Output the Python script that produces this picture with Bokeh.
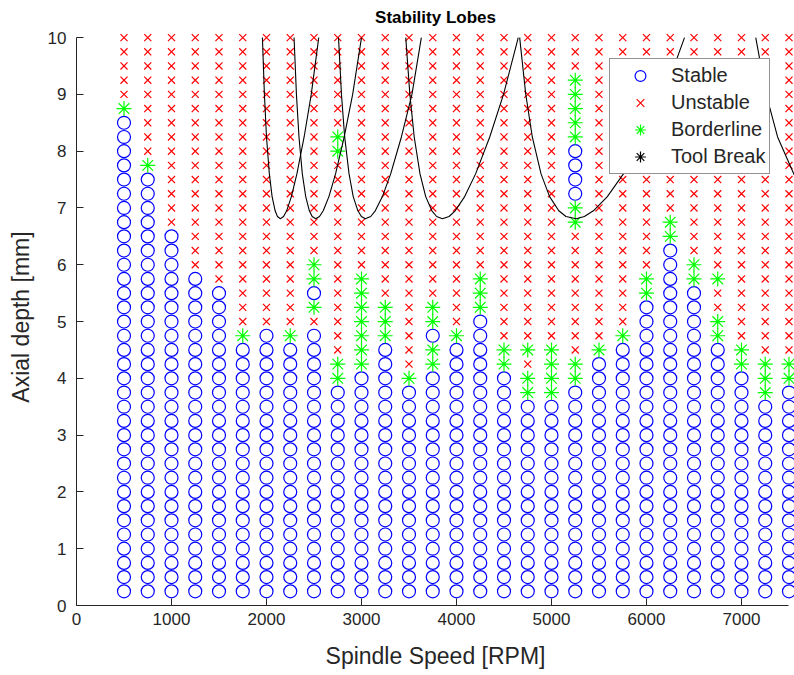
from bokeh.plotting import figure
from bokeh.models import Range1d, FixedTicker, Legend, LegendItem
from bokeh.embed import file_html
from bokeh.resources import INLINE

FONT = "Liberation Sans"
TXT = "#262626"

# ---------------- data ----------------
speeds = [500, 750, 1000, 1250, 1500, 1750, 2000, 2250, 2500, 2750,
          3000, 3250, 3500, 3750, 4000, 4250, 4500, 4750, 5000, 5250,
          5500, 5750, 6000, 6250, 6500, 6750, 7000, 7250, 7500]
depth_step = 0.25  # test depths: 0.25, 0.50, ... 10.0 mm
# result of each test from the lowest depth upward, as runs:
# o = stable, x = unstable, * = borderline
columns = [
    "34o 1* 5x",                          # 500
    "30o 1* 9x",                          # 750
    "26o 14x",                            # 1000
    "23o 17x",                            # 1250
    "22o 18x",                            # 1500
    "18o 1* 21x",                         # 1750
    "19o 21x",                            # 2000
    "18o 1* 21x",                         # 2250
    "19o 1x 1* 1o 2* 16x",                # 2500
    "15o 2* 14x 2* 7x",                   # 2750
    "16o 7* 17x",                         # 3000
    "18o 3* 19x",                         # 3250
    "15o 1* 24x",                         # 3500
    "16o 2* 1o 2* 19x",                   # 3750
    "18o 1* 21x",                         # 4000
    "20o 3* 17x",                         # 4250
    "16o 2* 22x",                         # 4500
    "14o 2* 1x 1* 22x",                   # 4750
    "14o 4* 22x",                         # 5000
    "15o 2* 9x 2* 4o 5* 3x",              # 5250
    "17o 1* 22x",                         # 5500
    "18o 1* 21x",                         # 5750
    "21o 2* 17x",                         # 6000
    "25o 2* 13x",                         # 6250
    "22o 2* 16x",                         # 6500
    "18o 2* 2x 1* 17x",                   # 6750
    "16o 2* 22x",                         # 7000
    "14o 3* 23x",                         # 7250
    "15o 2* 23x",                         # 7500
]
# no tool breaks occurred (a single NaN entry keeps the legend glyph)
tool_break_rpm = [float("nan")]
tool_break_depth = [float("nan")]

# stability lobe boundaries (speed [rpm], depth [mm])
lobe_depth = [10, 9, 8.25, 7.6, 7.2, 6.95, 6.85, 6.81, 6.85, 6.95, 7.2, 7.6, 8.25, 9, 10]
lobe_rpm = [
    [1957, 1978, 2000, 2030, 2059, 2091, 2115, 2146, 2180, 2212, 2262, 2320, 2396, 2471, 2550],
    [2290, 2315, 2342, 2377, 2413, 2451, 2481, 2518, 2558, 2597, 2657, 2727, 2818, 2907, 3000],
    [2758, 2789, 2823, 2869, 2913, 2962, 2999, 3040, 3097, 3145, 3220, 3307, 3420, 3531, 3630],
    [3466, 3509, 3555, 3616, 3676, 3741, 3791, 3852, 3922, 3986, 4086, 4201, 4350, 4495, 4650],
    [4665, 4729, 4798, 4890, 4980, 5077, 5152, 5260, 5346, 5441, 5588, 5757, 5973, 6184, 6400],
]
last_lobe_rpm = [7150, 7260, 7380, 7550, 7700]
last_lobe_depth = [10, 9, 8.25, 7.6, 7.2]

x_ticks = [0, 1000, 2000, 3000, 4000, 5000, 6000, 7000]
y_ticks = [0, 1, 2, 3, 4, 5, 6, 7, 8, 9, 10]

# ---------------- build point lists ----------------
pts = {"o": ([], []), "x": ([], []), "*": ([], [])}
for s, col in zip(speeds, columns):
    k = 0
    for run in col.split():
        cnt, code = int(run[:-1]), run[-1]
        for _ in range(cnt):
            k += 1
            pts[code][0].append(s)
            pts[code][1].append(k * depth_step)

# ---------------- figure ----------------
p = figure(width=794, height=675, output_backend="svg", toolbar_location=None,
           x_range=Range1d(0, 7558), y_range=Range1d(0, 10.16),
           min_border_left=76, min_border_right=0,
           min_border_top=28, min_border_bottom=70,
           title="Stability Lobes")
p.outline_line_color = None
p.grid.visible = False
p.background_fill_color = "white"
p.border_fill_color = "white"

p.title.align = "center"
p.title.text_font = FONT
p.title.text_font_size = "17px"
p.title.text_font_style = "bold"
p.title.text_color = "black"
p.title.standoff = 4

for ax in (p.xaxis[0], p.yaxis[0]):
    ax.axis_line_color = TXT
    ax.axis_line_width = 1
    ax.major_tick_line_color = TXT
    ax.major_tick_in = 7
    ax.major_tick_out = 0
    ax.minor_tick_line_color = None
    ax.major_label_text_font = FONT
    ax.major_label_text_font_size = "17px"
    ax.major_label_text_color = TXT
    ax.axis_label_text_font = FONT
    ax.axis_label_text_font_size = "23px"
    ax.axis_label_text_font_style = "normal"
    ax.axis_label_text_color = TXT

p.xaxis.ticker = FixedTicker(ticks=x_ticks)
p.yaxis.ticker = FixedTicker(ticks=y_ticks)
p.xaxis.bounds = (0, 7500)
p.yaxis.bounds = (0, 10)
p.xaxis.axis_label = "Spindle Speed [RPM]"
p.yaxis.axis_label = "Axial depth [mm]"
p.xaxis.major_label_standoff = 7
p.yaxis.major_label_standoff = 10
p.xaxis.axis_label_standoff = 15
p.yaxis.axis_label_standoff = 11

r_st = p.scatter(pts["o"][0], pts["o"][1], marker="circle", size=13,
                 fill_color=None, line_color="#0000FF", line_width=1.2)
r_un = p.scatter(pts["x"][0], pts["x"][1], marker="x", size=10,
                 line_color="#FF0000", line_width=1.2)
r_bd = p.scatter(pts["*"][0], pts["*"][1], marker="asterisk", size=15,
                 line_color="#00FF00", line_width=1.2)
r_tb = p.scatter(tool_break_rpm, tool_break_depth, marker="asterisk", size=15,
                 line_color="black", line_width=1.2)

for xs in lobe_rpm:
    p.line(xs, lobe_depth, line_color="black", line_width=1.1)
p.line(last_lobe_rpm, last_lobe_depth, line_color="black", line_width=1.1)

legend = Legend(items=[
    LegendItem(label="Stable", renderers=[r_st]),
    LegendItem(label="Unstable", renderers=[r_un]),
    LegendItem(label="Borderline", renderers=[r_bd]),
    LegendItem(label="Tool Break", renderers=[r_tb]),
], location=(533, 431))
legend.label_text_font = FONT
legend.label_text_font_size = "20px"
legend.label_text_color = TXT
legend.border_line_color = TXT
legend.border_line_width = 1
legend.background_fill_color = "white"
legend.background_fill_alpha = 1
legend.padding = 3
legend.margin = 0
legend.spacing = 0
legend.label_height = 27
legend.glyph_height = 27
legend.glyph_width = 54
legend.label_standoff = 4
p.add_layout(legend)

open("out.html", "w").write(file_html(p, INLINE))
